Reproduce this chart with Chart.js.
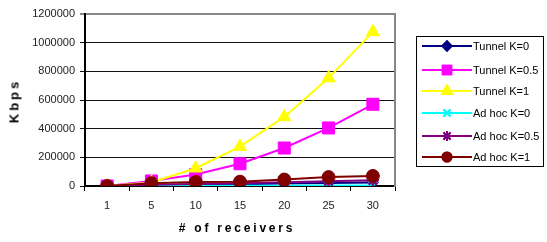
<!DOCTYPE html>
<html>
<head>
<meta charset="utf-8">
<script src="https://cdn.jsdelivr.net/npm/chart.js@4/dist/chart.umd.min.js"></script>
<style>
  body { margin: 0; background: #fff; }
  #wrap { position: relative; width: 547px; height: 242px; font-family: "Liberation Sans", Arial, sans-serif; }
  #ytitle { position: absolute; left: 14px; top: 101px; transform: translate(-50%, -50%) rotate(-90deg);
    font-weight: bold; font-size: 13px; letter-spacing: 3px; white-space: nowrap; color: #000; }
  #xtitle { position: absolute; left: 237px; top: 228px; transform: translate(-50%, -50%);
    font-weight: bold; font-size: 12px; letter-spacing: 2.8px; white-space: nowrap; color: #000; }
  #legend { position: absolute; left: 416px; top: 36px; width: 128px; height: 131px; border: 1px solid #000; box-sizing: border-box; }
  .row { position: absolute; left: 5px; height: 14px; display: flex; align-items: center; font-size: 11px; letter-spacing: 0px; color: #000; white-space: nowrap; }
  .row canvas { margin-right: 1px; }
</style>
</head>
<body>
<div id="wrap">
  <canvas id="chart" width="547" height="242"></canvas>
  <div id="ytitle">Kbps</div>
  <div id="xtitle"># of receivers</div>
  <div id="legend"></div>
</div>
<script>
const receivers = ["1", "5", "10", "15", "20", "25", "30"];
const tunnelK0 = [1000, 5000, 9000, 13000, 17000, 21000, 25000];
const tunnelK05 = [0, 35000, 80000, 155000, 265000, 405000, 570000];
const tunnelK1 = [0, 25000, 124000, 275000, 482000, 753000, 1075000];
const adhocK0 = [0, 1000, 1500, 2000, 2500, 3000, 3500];
const adhocK05 = [0, 9000, 14000, 19000, 26000, 33000, 40000];
const adhocK1 = [0, 20000, 28000, 30000, 45000, 62000, 70000];
const yMax = 1200000;
const yStep = 200000;

const series = [
  { label: "Tunnel K=0", data: tunnelK0, color: "#000080", style: "rectRot", r: 5.5, lr: 4.5 },
  { label: "Tunnel K=0.5", data: tunnelK05, color: "#ff00ff", style: "rect", r: 8.5, lr: 6 },
  { label: "Tunnel K=1", data: tunnelK1, color: "#ffff00", style: "triangle", r: 7.5, lr: 5.5 },
  { label: "Ad hoc K=0", data: adhocK0, color: "#00ffff", style: "crossRot", r: 6, lr: 5 },
  { label: "Ad hoc K=0.5", data: adhocK05, color: "#800080", style: "star", r: 6, lr: 5 },
  { label: "Ad hoc K=1", data: adhocK1, color: "#800000", style: "circle", r: 6.5, lr: 4.5 }
];

const datasets = series.map((s, i) => ({
  label: s.label,
  data: s.data,
  borderColor: s.color,
  backgroundColor: s.color,
  borderWidth: 2,
  pointStyle: s.style,
  pointRadius: s.r,
  pointBorderWidth: s.style === "crossRot" || s.style === "star" ? 2.5 : 1,
  pointBorderColor: s.color,
  pointBackgroundColor: s.color,
  order: -i,
  tension: 0
}));

const font = { family: "'Liberation Sans', Arial, sans-serif", size: 11 };

new Chart(document.getElementById("chart"), {
  type: "line",
  data: { labels: receivers, datasets: datasets },
  options: {
    responsive: false,
    animation: false,
    layout: { padding: { top: 14, right: 152, left: 0, bottom: 0 } },
    plugins: { legend: { display: false }, tooltip: { enabled: false } },
    scales: {
      x: {
        offset: true,
        grid: { offset: true, drawOnChartArea: false, color: "#000", tickLength: 5 },
        border: { color: "#000", width: 1.5 },
        ticks: { color: "#222", font: font, padding: 8, maxRotation: 0 },
        afterFit: s => { s.height = 56; }
      },
      y: {
        min: 0,
        max: yMax,
        grid: {
          color: ctx => ctx.tick && ctx.tick.value === yMax ? "#888" : "#111",
          lineWidth: ctx => ctx.tick && ctx.tick.value === yMax ? 2 : 1,
          tickLength: 5
        },
        border: { color: "#000", width: 2 },
        ticks: { stepSize: yStep, color: "#222", font: font, padding: 5, callback: v => String(v) },
        afterFit: s => { s.width = 85; }
      },
      y2: {
        position: "right",
        min: 0,
        max: yMax,
        grid: { drawOnChartArea: false, drawTicks: false },
        border: { color: "#888", width: 2 },
        ticks: { display: false },
        afterFit: s => { s.width = 0; }
      }
    }
  }
});

// legend: line with marker, like the original (row centres in page px)
const rowsY = [46, 70, 91, 113, 136, 157];
const legend = document.getElementById("legend");
series.forEach((s, i) => {
  const row = document.createElement("div");
  row.className = "row";
  row.style.top = (rowsY[i] - 37 - 7) + "px";
  const c = document.createElement("canvas");
  c.width = 50; c.height = 14;
  const g = c.getContext("2d");
  g.strokeStyle = s.color; g.lineWidth = 2;
  g.beginPath(); g.moveTo(0, 7); g.lineTo(50, 7); g.stroke();
  Chart.helpers.drawPoint(g, {
    pointStyle: s.style, radius: s.lr, rotation: 0,
    borderWidth: s.style === "crossRot" || s.style === "star" ? 2 : 1
  }, 25, 7);
  g.fillStyle = s.color;
  g.fill();
  g.stroke();
  row.appendChild(c);
  const t = document.createElement("span");
  t.textContent = s.label;
  row.appendChild(t);
  legend.appendChild(row);
});
</script>
</body>
</html>
